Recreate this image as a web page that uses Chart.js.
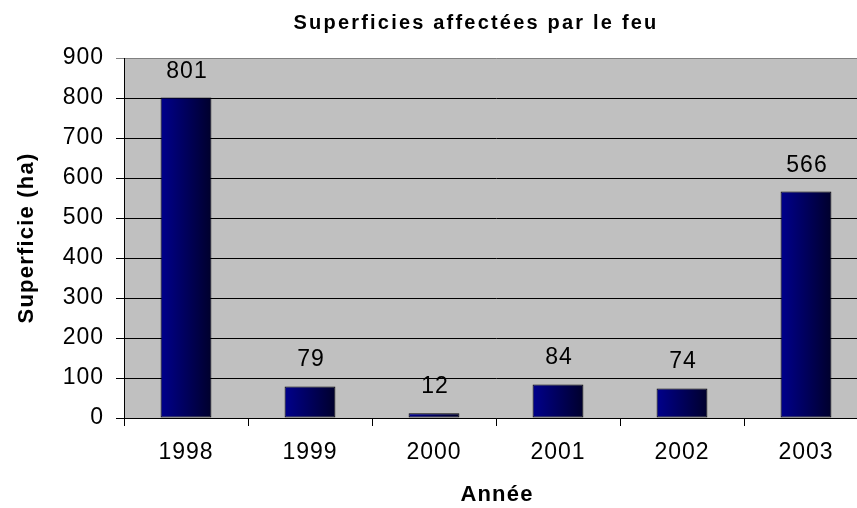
<!DOCTYPE html>
<html lang="fr">
<head>
  <meta charset="UTF-8">
  <title>Superficies affectées par le feu</title>
  <script src="https://cdn.jsdelivr.net/npm/chart.js"></script>
  <style>
    html, body {
      margin: 0;
      padding: 0;
      background: #fff;
      overflow: hidden;
    }
    #wrap {
      width: 880px;
      height: 508px;
    }
  </style>
</head>
<body>
  <div id="wrap">
    <canvas id="feuChart" width="880" height="508"></canvas>
  </div>

  <script>
    // Données
    const years = ['1998', '1999', '2000', '2001', '2002', '2003'];
    const surfaces = [801, 79, 12, 84, 74, 566];
    const yTicks = [0, 100, 200, 300, 400, 500, 600, 700, 800, 900];

    const chartTitle = 'Superficies affectées par le feu';
    const yTitle = 'Superficie (ha)';
    const xTitle = 'Année';

    const FONT = "'Liberation Sans', Arial, sans-serif";
    const barPct = 0.41;

    // fond gris de la zone de traçage + espacement des lettres
    const plotBg = {
      id: 'plotBg',
      beforeDraw(chart) {
        const { ctx, chartArea: a } = chart;
        ctx.save();
        ctx.fillStyle = '#C0C0C0';
        ctx.fillRect(a.left, a.top, a.right - a.left, a.bottom - a.top);
        ctx.restore();
        ctx.letterSpacing = '1px';
      }
    };

    // titres et étiquettes de valeurs
    const texts = {
      id: 'texts',
      afterDraw(chart) {
        const { ctx, chartArea: a } = chart;
        ctx.save();
        ctx.fillStyle = '#000';

        // titre
        ctx.letterSpacing = '2.2px';
        ctx.font = 'bold 20px ' + FONT;
        ctx.textAlign = 'center';
        ctx.textBaseline = 'alphabetic';
        ctx.fillText(chartTitle, 476, 29);

        // titre axe X
        ctx.letterSpacing = '1.2px';
        ctx.font = 'bold 22px ' + FONT;
        ctx.fillText(xTitle, (a.left + a.right) / 2 + 1, 501);

        // titre axe Y
        ctx.save();
        ctx.translate(33, (a.top + a.bottom) / 2);
        ctx.rotate(-Math.PI / 2);
        ctx.fillText(yTitle, 0, 0);
        ctx.restore();

        // valeurs au-dessus des barres
        ctx.letterSpacing = '1px';
        ctx.font = '23px ' + FONT;
        const meta = chart.getDatasetMeta(0);
        meta.data.forEach((bar, i) => {
          ctx.fillText(String(surfaces[i]), bar.x + 1, bar.y - 20);
        });
        ctx.restore();
      }
    };

    function barGradient(context) {
      const chart = context.chart;
      if (!chart.chartArea) return '#000080';
      const xs = chart.scales.x;
      const cx = xs.getPixelForValue(context.dataIndex);
      const w = (xs.width / years.length) * barPct;
      const g = chart.ctx.createLinearGradient(cx - w / 2, 0, cx + w / 2, 0);
      g.addColorStop(0, '#00008C');
      g.addColorStop(1, '#00002C');
      return g;
    }

    const ctxFeu = document.getElementById('feuChart').getContext('2d');
    const feuChart = new Chart(ctxFeu, {
      type: 'bar',
      data: {
        labels: years,
        datasets: [{
          label: 'Superficie (ha)',
          data: surfaces,
          backgroundColor: barGradient,
          borderColor: '#000',
          borderWidth: 1,
          borderSkipped: false,
          barPercentage: barPct,
          categoryPercentage: 1
        }]
      },
      options: {
        responsive: false,
        animation: false,
        layout: {
          padding: { top: 58, right: 12, bottom: 0, left: 0 }
        },
        plugins: {
          legend: { display: false },
          title: { display: false },
          tooltip: { enabled: false }
        },
        scales: {
          x: {
            afterFit(scale) { scale.height = 90; },
            grid: {
              offset: true,
              drawOnChartArea: false,
              drawTicks: true,
              tickLength: 8,
              color: '#000'
            },
            border: { color: '#000', width: 1 },
            ticks: {
              color: '#000',
              padding: 13,
              font: { family: FONT, size: 23 }
            }
          },
          y: {
            min: 0,
            max: 900,
            afterFit(scale) { scale.width = 124; },
            afterBuildTicks(scale) {
              scale.ticks = yTicks.map(v => ({ value: v }));
            },
            grid: {
              color: ctx => (ctx.tick && ctx.tick.value === 900 ? '#808080' : '#000'),
              tickLength: 8,
              drawTicks: true
            },
            border: { color: '#000', width: 1 },
            ticks: {
              color: '#000',
              padding: 12,
              font: { family: FONT, size: 23 }
            }
          }
        }
      },
      plugins: [plotBg, texts]
    });
  </script>
</body>
</html>
